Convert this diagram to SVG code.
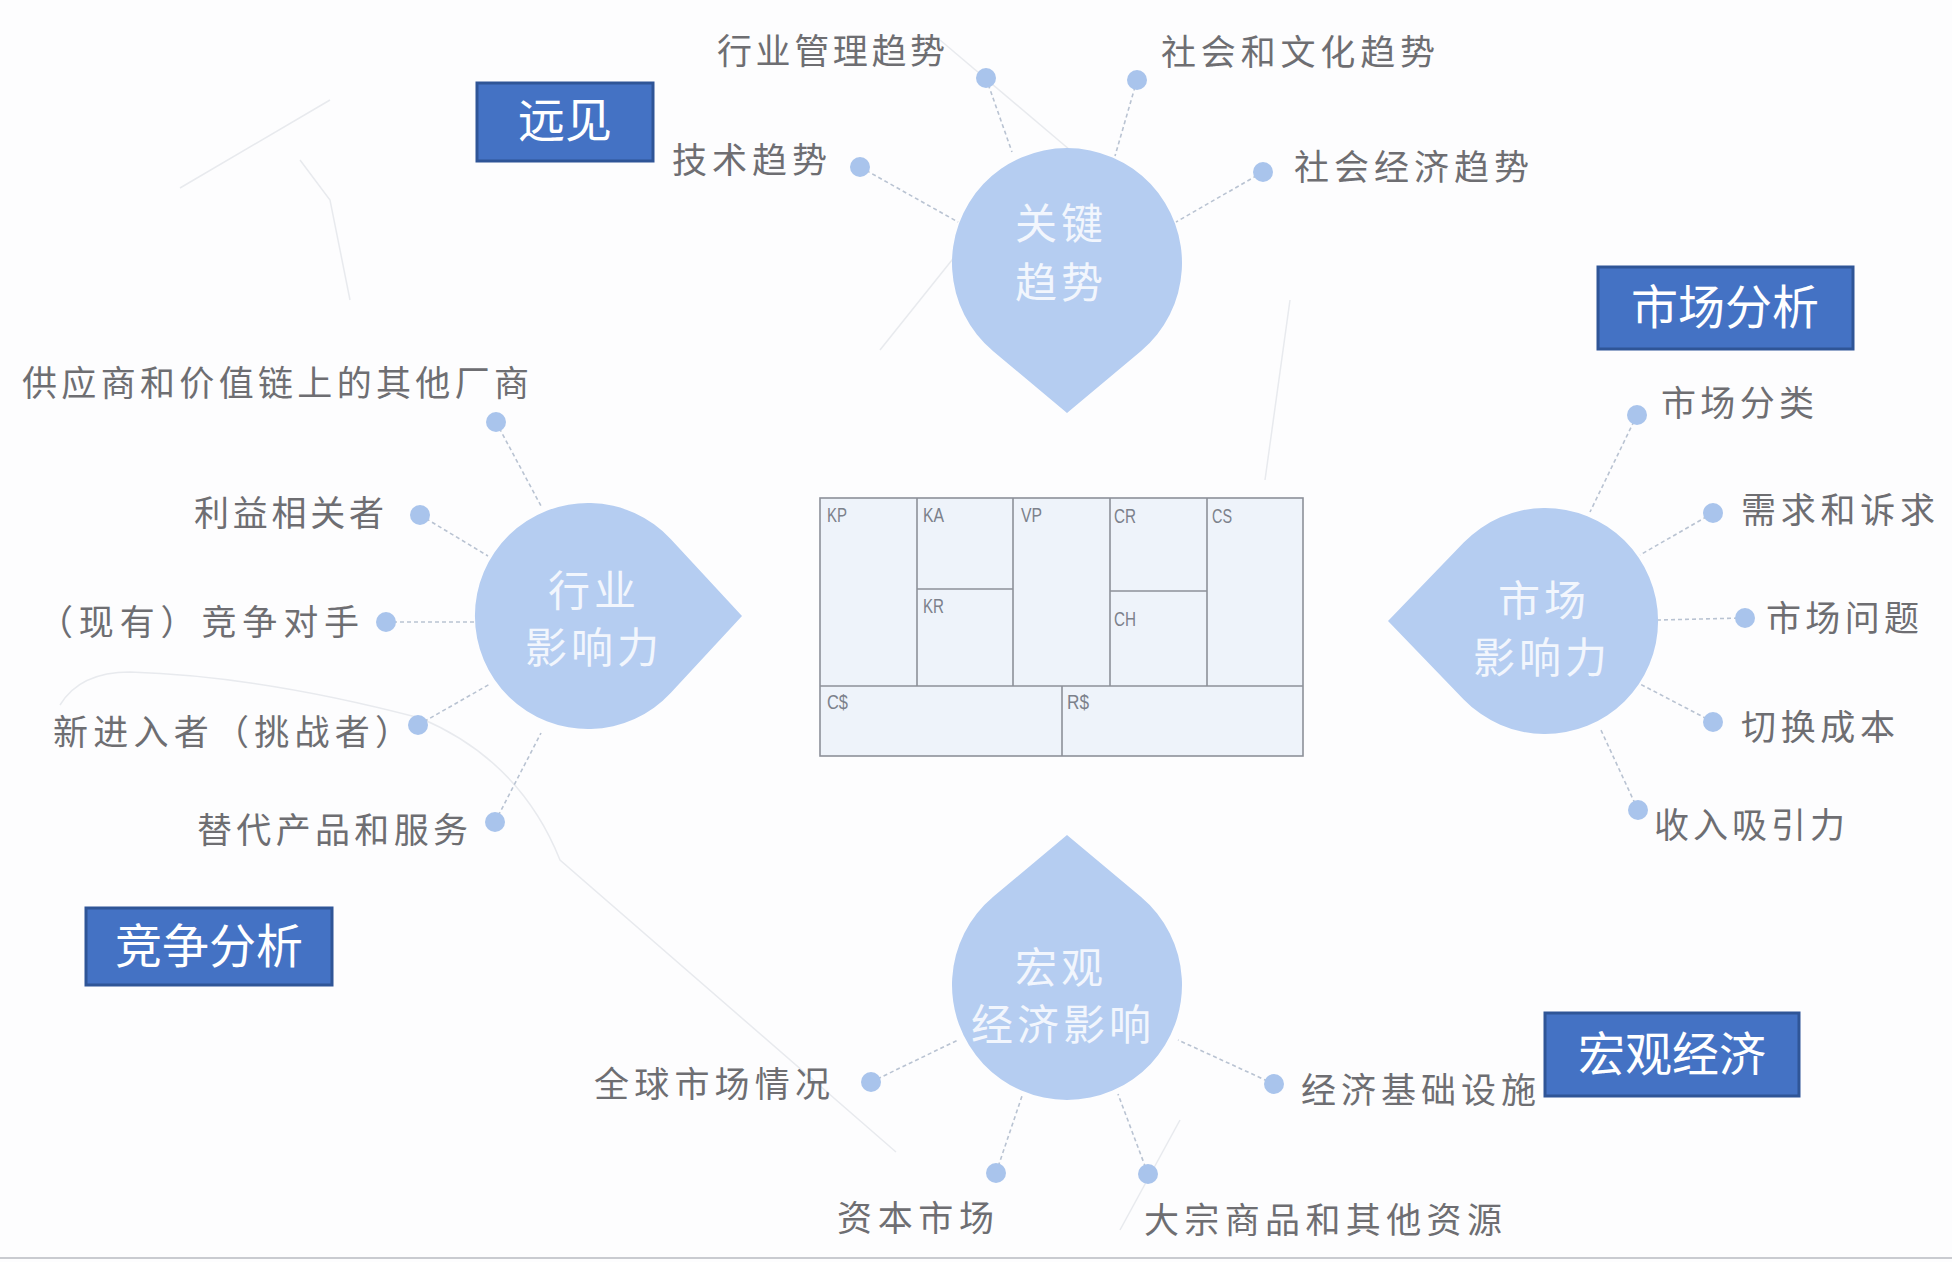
<svg xmlns="http://www.w3.org/2000/svg" width="1952" height="1262" viewBox="0 0 1952 1262">
  <defs>
    <style>
      .bg { fill: #fdfdfe; }
      .faint { fill: none; stroke: #e8eaee; stroke-width: 1.5; }
      .drop { fill: #b5cdf1; }
      .droptxt { font-family: "Noto Sans CJK SC", "Noto Sans", sans-serif; font-size: 42px; fill: #f2f6fd; text-anchor: middle; letter-spacing: 4px; }
      .lbl { font-family: "Noto Sans CJK SC", "Noto Sans", sans-serif; font-size: 35px; fill: #6e6e72; }
      .dot { fill: #a9c4ec; }
      .conn { fill: none; stroke: #b9c3d2; stroke-width: 1.6; stroke-dasharray: 4 3; }
      .tagbox { fill: #4472c4; stroke: #2f5597; stroke-width: 3; }
      .tagtxt { font-family: "Noto Sans CJK SC", "Noto Sans", sans-serif; font-size: 47px; fill: #ffffff; text-anchor: middle; }
      .cv { fill: #eef3fa; stroke: #8c9099; stroke-width: 1.6; }
      .cvl { fill: none; stroke: #8c9099; stroke-width: 1.6; }
      .cvt { font-family: "Liberation Sans", "DejaVu Sans", sans-serif; font-size: 20px; fill: #7c818b; }
    </style>
  </defs>
  <rect class="bg" x="0" y="0" width="1952" height="1262"/>

  <g id="background-lines">
    <path class="faint" d="M60 705 Q80 672 130 672 Q260 676 420 718 Q520 760 560 860 L896 1152"/>
    <path class="faint" d="M180 188 L330 100"/>
    <path class="faint" d="M300 160 L330 200 L350 300"/>
    <path class="faint" d="M940 40 L1070 150"/>
    <path class="faint" d="M880 350 L960 250"/>
    <path class="faint" d="M1290 300 L1265 480"/>
    <path class="faint" d="M1120 1230 L1180 1120"/>
    <line x1="0" y1="1258" x2="1952" y2="1258" stroke="#c9cbd0" stroke-width="2"/>
  </g>

  <g id="connectors">
    <line class="conn" x1="986" y1="78" x2="1012" y2="152"/>
    <line class="conn" x1="1137" y1="80" x2="1115" y2="156"/>
    <line class="conn" x1="860" y1="167" x2="958" y2="222"/>
    <line class="conn" x1="1263" y1="172" x2="1176" y2="222"/>
    <line class="conn" x1="496" y1="422" x2="541" y2="506"/>
    <line class="conn" x1="420" y1="515" x2="488" y2="556"/>
    <line class="conn" x1="386" y1="622" x2="476" y2="622"/>
    <line class="conn" x1="418" y1="725" x2="490" y2="684"/>
    <line class="conn" x1="495" y1="822" x2="541" y2="733"/>
    <line class="conn" x1="1637" y1="415" x2="1590" y2="512"/>
    <line class="conn" x1="1713" y1="513" x2="1640" y2="555"/>
    <line class="conn" x1="1745" y1="618" x2="1658" y2="620"/>
    <line class="conn" x1="1713" y1="722" x2="1640" y2="684"/>
    <line class="conn" x1="1638" y1="810" x2="1600" y2="728"/>
    <line class="conn" x1="871" y1="1082" x2="958" y2="1040"/>
    <line class="conn" x1="1274" y1="1084" x2="1178" y2="1040"/>
    <line class="conn" x1="996" y1="1173" x2="1022" y2="1096"/>
    <line class="conn" x1="1148" y1="1174" x2="1118" y2="1094"/>
  </g>

  <g id="canvas">
    <rect class="cv" x="820" y="498" width="483" height="258"/>
    <line class="cvl" x1="917" y1="498" x2="917" y2="686"/>
    <line class="cvl" x1="1013" y1="498" x2="1013" y2="686"/>
    <line class="cvl" x1="1110" y1="498" x2="1110" y2="686"/>
    <line class="cvl" x1="1207" y1="498" x2="1207" y2="686"/>
    <line class="cvl" x1="917" y1="589" x2="1013" y2="589"/>
    <line class="cvl" x1="1110" y1="591" x2="1207" y2="591"/>
    <line class="cvl" x1="820" y1="686" x2="1303" y2="686"/>
    <line class="cvl" x1="1062" y1="686" x2="1062" y2="756"/>
    <text class="cvt" x="827" y="522" textLength="20" lengthAdjust="spacingAndGlyphs">KP</text>
    <text class="cvt" x="923" y="522" textLength="21" lengthAdjust="spacingAndGlyphs">KA</text>
    <text class="cvt" x="1021" y="522" textLength="21" lengthAdjust="spacingAndGlyphs">VP</text>
    <text class="cvt" x="1114" y="523" textLength="22" lengthAdjust="spacingAndGlyphs">CR</text>
    <text class="cvt" x="1212" y="523" textLength="20" lengthAdjust="spacingAndGlyphs">CS</text>
    <text class="cvt" x="923" y="613" textLength="21" lengthAdjust="spacingAndGlyphs">KR</text>
    <text class="cvt" x="1114" y="626" textLength="22" lengthAdjust="spacingAndGlyphs">CH</text>
    <text class="cvt" x="827" y="709" textLength="21" lengthAdjust="spacingAndGlyphs">C$</text>
    <text class="cvt" x="1067" y="709" textLength="22" lengthAdjust="spacingAndGlyphs">R$</text>
  </g>

  <g id="node-key-trends">
    <path class="drop" d="M1067 413 L993.2 351.2 A115 115 0 1 1 1140.8 351.2 Z"/>
    <text class="droptxt" x="1061" y="239">关键</text>
    <text class="droptxt" x="1061" y="298">趋势</text>
  </g>
  <g id="node-industry">
    <path class="drop" d="M742 616 L670.9 692.7 A113 113 0 1 1 670.9 539.3 Z"/>
    <text class="droptxt" x="594" y="606">行业</text>
    <text class="droptxt" x="594" y="663">影响力</text>
  </g>
  <g id="node-market">
    <path class="drop" d="M1388 621 L1463.7 542.6 A113 113 0 1 1 1463.7 699.4 Z"/>
    <text class="droptxt" x="1544" y="616">市场</text>
    <text class="droptxt" x="1542" y="673">影响力</text>
  </g>
  <g id="node-macro">
    <path class="drop" d="M1067 835 L1140.8 896.8 A115 115 0 1 1 993.2 896.8 Z"/>
    <text class="droptxt" x="1061" y="983">宏观</text>
    <text class="droptxt" x="1063" y="1040">经济影响</text>
  </g>

  <g id="satellites">
    <circle class="dot" cx="986" cy="78" r="10"/>
    <circle class="dot" cx="1137" cy="80" r="10"/>
    <circle class="dot" cx="860" cy="167" r="10"/>
    <circle class="dot" cx="1263" cy="172" r="10"/>
    <circle class="dot" cx="496" cy="422" r="10"/>
    <circle class="dot" cx="420" cy="515" r="10"/>
    <circle class="dot" cx="386" cy="622" r="10"/>
    <circle class="dot" cx="418" cy="725" r="10"/>
    <circle class="dot" cx="495" cy="822" r="10"/>
    <circle class="dot" cx="1637" cy="415" r="10"/>
    <circle class="dot" cx="1713" cy="513" r="10"/>
    <circle class="dot" cx="1745" cy="618" r="10"/>
    <circle class="dot" cx="1713" cy="722" r="10"/>
    <circle class="dot" cx="1638" cy="810" r="10"/>
    <circle class="dot" cx="871" cy="1082" r="10"/>
    <circle class="dot" cx="1274" cy="1084" r="10"/>
    <circle class="dot" cx="996" cy="1173" r="10"/>
    <circle class="dot" cx="1148" cy="1174" r="10"/>

    <text class="lbl" x="717" y="64" textLength="228" lengthAdjust="spacing">行业管理趋势</text>
    <text class="lbl" x="1161" y="65" textLength="274" lengthAdjust="spacing">社会和文化趋势</text>
    <text class="lbl" x="672" y="173" textLength="155" lengthAdjust="spacing">技术趋势</text>
    <text class="lbl" x="1294" y="180" textLength="235" lengthAdjust="spacing">社会经济趋势</text>
    <text class="lbl" x="22" y="396" textLength="507" lengthAdjust="spacing">供应商和价值链上的其他厂商</text>
    <text class="lbl" x="194" y="526" textLength="190" lengthAdjust="spacing">利益相关者</text>
    <text class="lbl" x="38" y="635" textLength="321" lengthAdjust="spacing">（现有）竞争对手</text>
    <text class="lbl" x="53" y="745" textLength="357" lengthAdjust="spacing">新进入者（挑战者）</text>
    <text class="lbl" x="197" y="843" textLength="271" lengthAdjust="spacing">替代产品和服务</text>
    <text class="lbl" x="1661" y="416" textLength="153" lengthAdjust="spacing">市场分类</text>
    <text class="lbl" x="1741" y="523" textLength="194" lengthAdjust="spacing">需求和诉求</text>
    <text class="lbl" x="1766" y="631" textLength="153" lengthAdjust="spacing">市场问题</text>
    <text class="lbl" x="1741" y="740" textLength="154" lengthAdjust="spacing">切换成本</text>
    <text class="lbl" x="1654" y="838" textLength="191" lengthAdjust="spacing">收入吸引力</text>
    <text class="lbl" x="594" y="1097" textLength="236" lengthAdjust="spacing">全球市场情况</text>
    <text class="lbl" x="1301" y="1103" textLength="235" lengthAdjust="spacing">经济基础设施</text>
    <text class="lbl" x="837" y="1231" textLength="157" lengthAdjust="spacing">资本市场</text>
    <text class="lbl" x="1144" y="1233" textLength="358" lengthAdjust="spacing">大宗商品和其他资源</text>
  </g>

  <g id="tag-vision">
    <rect class="tagbox" x="477" y="83" width="176" height="78"/>
    <text class="tagtxt" x="565" y="137">远见</text>
  </g>
  <g id="tag-market-analysis">
    <rect class="tagbox" x="1598" y="267" width="255" height="82"/>
    <text class="tagtxt" x="1725" y="324">市场分析</text>
  </g>
  <g id="tag-competition">
    <rect class="tagbox" x="86" y="908" width="246" height="77"/>
    <text class="tagtxt" x="209" y="963">竞争分析</text>
  </g>
  <g id="tag-macro">
    <rect class="tagbox" x="1545" y="1013" width="254" height="83"/>
    <text class="tagtxt" x="1672" y="1071">宏观经济</text>
  </g>
</svg>
